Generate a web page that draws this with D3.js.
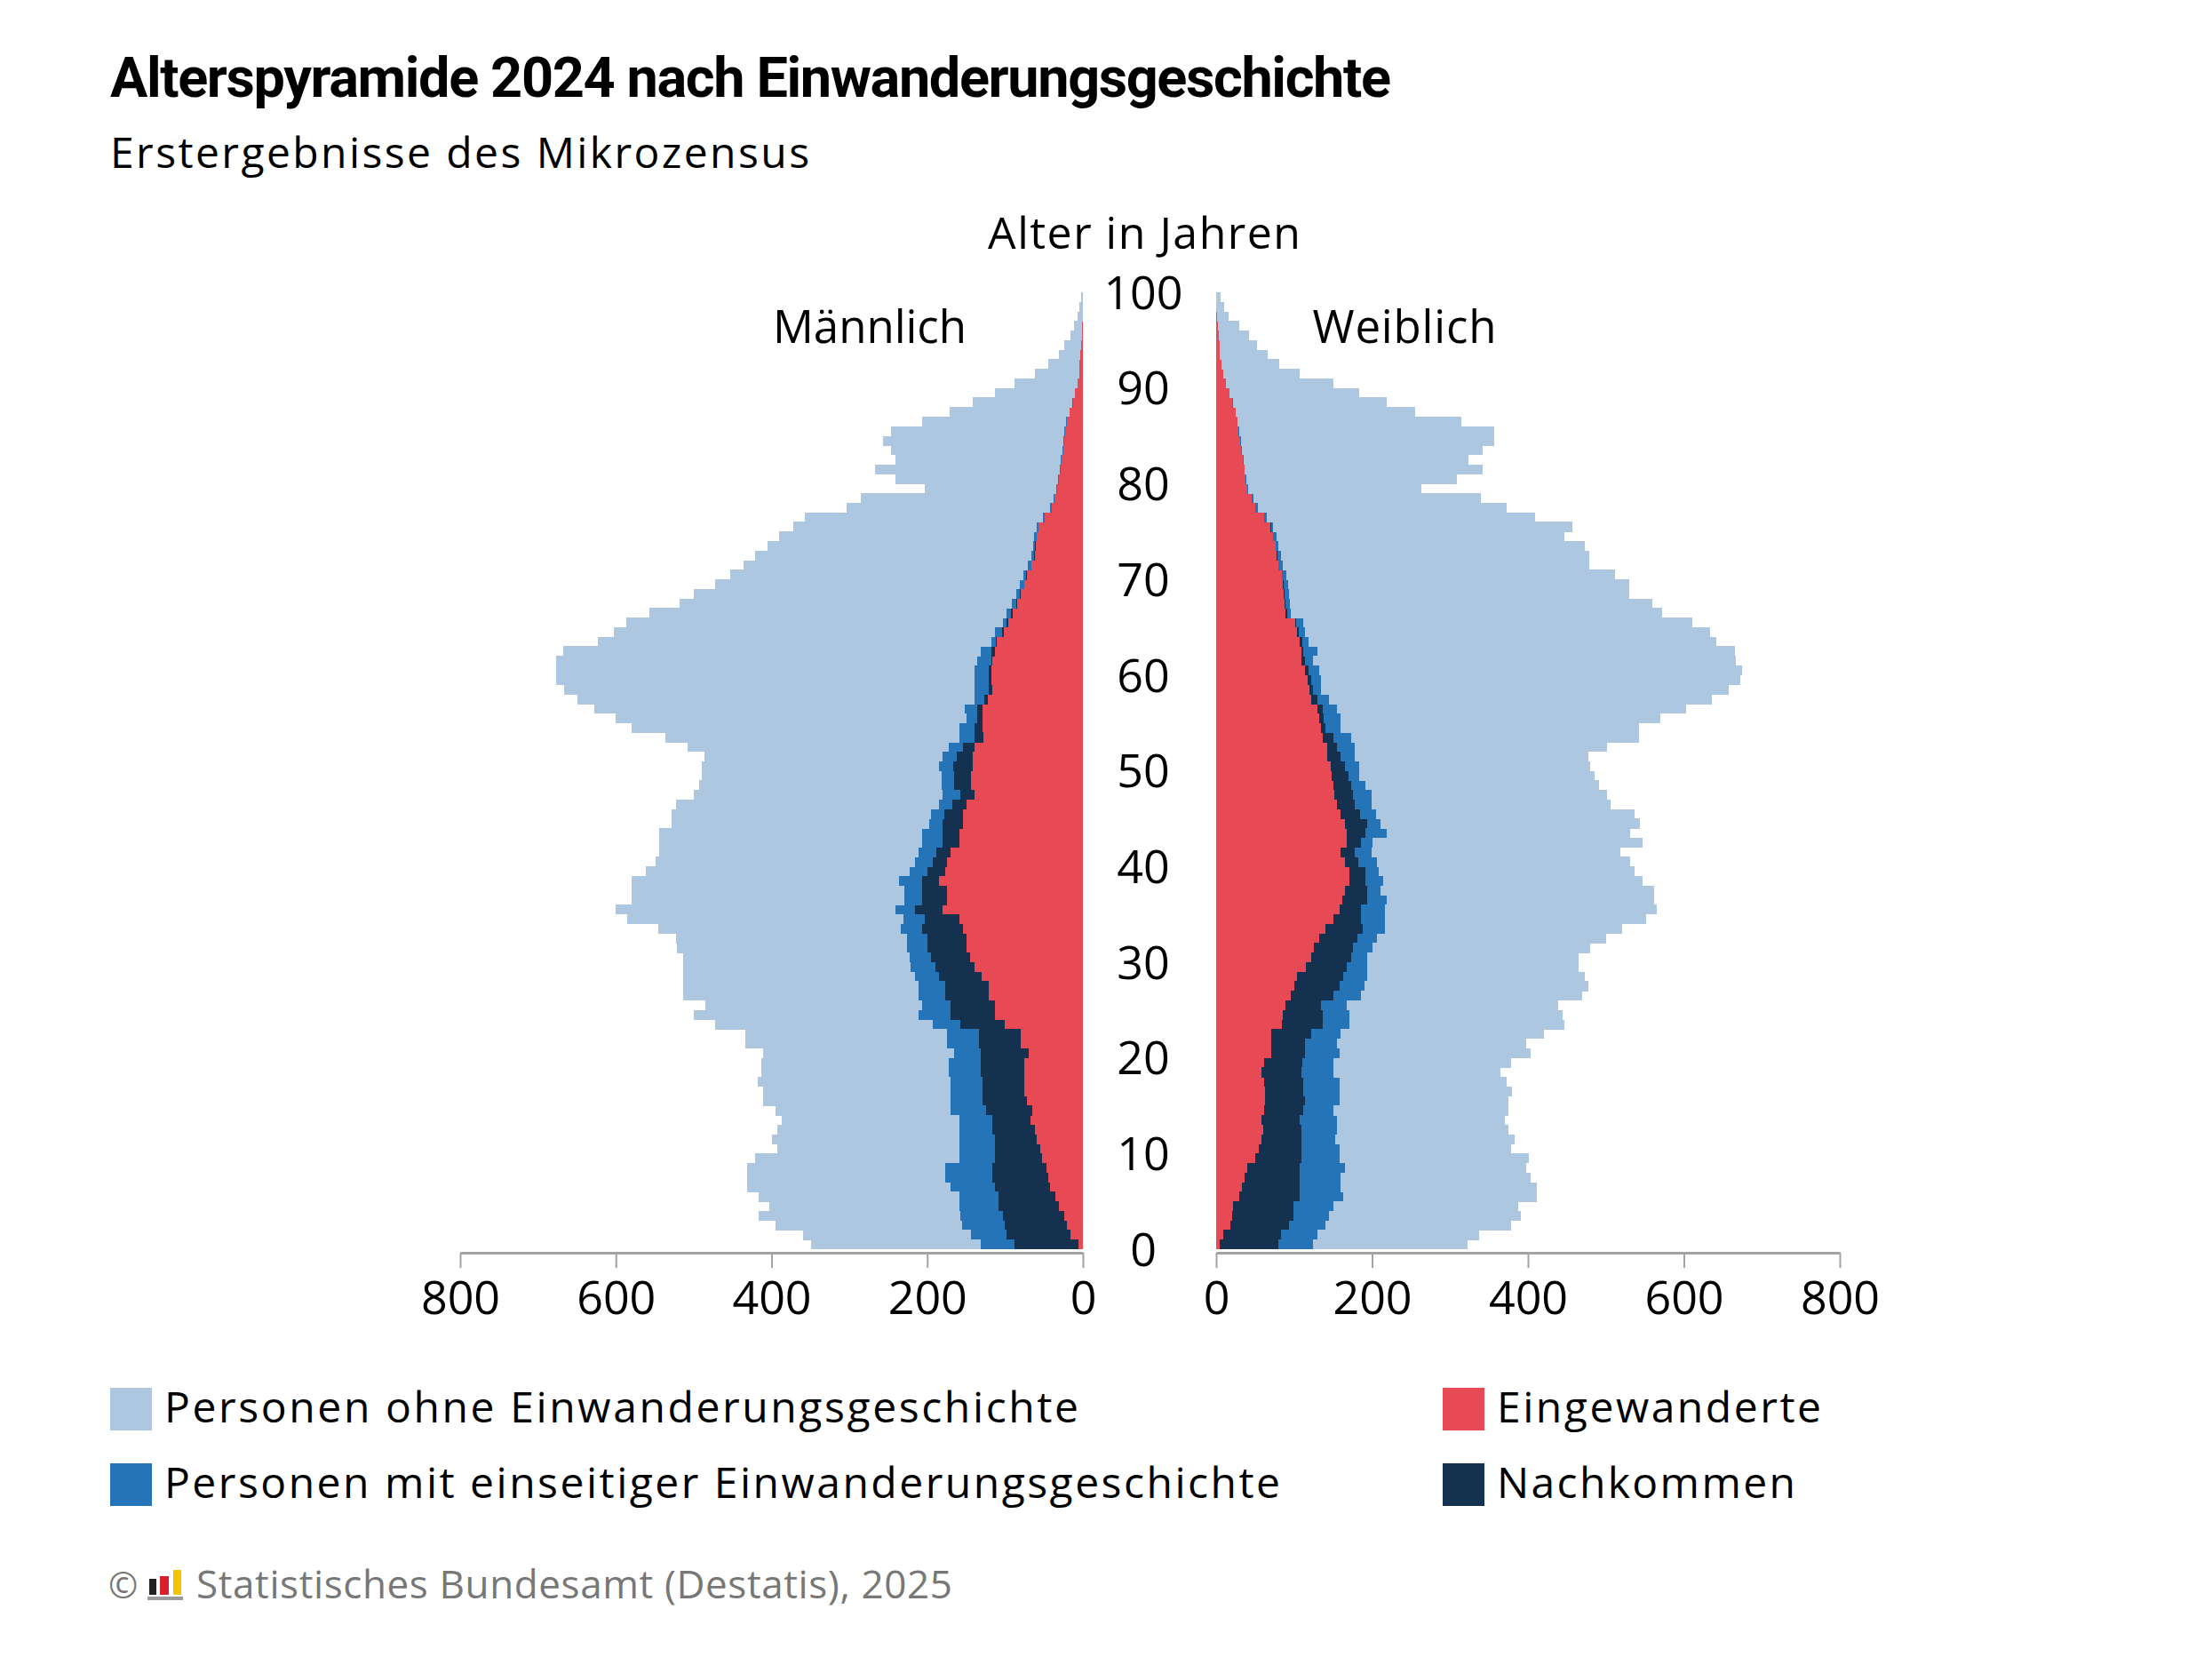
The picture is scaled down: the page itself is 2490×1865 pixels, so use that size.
<!DOCTYPE html>
<html>
<head>
<meta charset="utf-8">
<script src="https://cdn.jsdelivr.net/npm/d3@7"></script>
<style>
  body { margin: 0; background: #fff; }
  svg text { font-family: "Open Sans", "Noto Sans", sans-serif; fill: #000; }
</style>
</head>
<body>
<div id="chart"></div>
<script>
// ages 0..99, one bar per year (values in thousand persons)
var ages = d3.range(0, 100);

// Männlich
var m_eingewanderte = [
	6,16,20,24,31,35,42,45,47,52, 55,59,62,67,65,72,75,75,75,75,
	70,80,80,100,113,113,121,121,130,139, 145,149,149,154,159,180,175,175,185,177,
	175,170,159,159,154,154,150,139,144,144, 141,141,139,128,129,129,129,122,116,118,
	118,116,113,111,102,96,90,84,80,75, 72,66,62,61,59,57,49,40,36,33,
	31,29,27,25,24,23,21,17,13,10, 7,5,4,3,2,1,1,0.5,0.3,0.2
];
var m_nachkommen = [
	82,82,80,79,77,73,71,71,69,61, 58,54,54,49,59,57,54,54,56,56,
	61,54,54,57,57,57,56,56,55,51, 50,51,51,52,44,36,31,31,21,23,
	18,18,21,21,26,24,18,18,21,21, 26,21,15,11,10,7,7,5,5,3,
	3,2,5,1,2,2,2,2,1,0.5, 0.5,0.3,0.3,0.2,0.2,0.2,0.1,0.1,0.1,0.1,
	0,0,0,0,0,0,0,0,0,0, 0,0,0,0,0,0,0,0,0,0
];
var m_einseitig = [
	43,46,55,54,51,51,57,61,61,46, 46,46,43,43,46,41,41,41,41,41,
	34,41,41,36,41,36,34,34,31,31, 28,26,26,28,28,25,23,23,30,23,
	23,23,26,26,18,17,17,23,17,17, 18,18,18,20,20,13,16,12,18,18,
	18,18,13,6,9,5,6,5,5,5, 4,4,4,3,3,2,2,2,2,1,
	1,1,1,1,1,1,0.5,0.5,0.3,0.2, 0,0,0,0,0,0,0,0,0,0
];
var m_ohne = [
	218,215,240,259,244,257,261,254,254,262, 234,241,234,228,225,241,241,248,241,241,
	246,259,259,279,289,279,302,302,297,292, 290,295,297,312,354,359,351,351,344,339,
	333,333,338,338,330,333,338,320,311,308, 305,306,336,377,421,451,476,510,527,538,
	538,541,537,505,490,484,459,427,414,392, 376,366,355,341,328,313,306,261,247,169,
	209,237,213,221,232,223,185,154,128,103, 81,57,40,28,22,15,10,6.5,3.7,1.8
];

// Weiblich
var w_eingewanderte = [
	5,9,18,20,22,30,33,37,40,50, 55,58,60,58,62,63,63,62,58,62,
	71,71,71,84,86,89,96,100,104,115, 122,125,132,140,150,158,162,165,171,171,
	165,160,168,168,165,160,155,152,150,148, 147,143,142,137,135,132,130,122,120,117,
	114,109,109,107,104,101,89,88,87,86, 84,80,78,76,73,70,62,50,46,40,
	38,36,34,32,31,29,27,25,21,17, 13,9,7,5,4,3,2,1,0.5,0.3
];
var w_nachkommen = [
	75,74,76,79,77,77,74,70,67,59, 54,51,49,49,50,51,49,50,51,48,
	43,43,51,53,51,46,54,58,59,53, 51,50,49,48,36,28,32,29,20,20,
	17,18,18,24,29,25,23,24,23,22, 18,17,13,13,5,6,7,8,4,5,
	4,5,3,3,2,2,2,1,0.5,0.5, 0.5,0.3,0.3,0.2,0.2,0.2,0.1,0.1,0.1,0.1,
	0,0,0,0,0,0,0,0,0,0, 0,0,0,0,0,0,0,0,0,0
];
var w_einseitig = [
	44,47,46,46,51,56,53,53,58,49, 49,44,46,48,38,44,46,46,41,40,
	44,41,38,34,34,33,36,32,31,26, 21,26,25,29,31,31,25,17,23,18,
	24,21,15,27,17,20,21,23,18,13, 18,18,23,23,20,22,18,15,11,13,
	14,10,18,9,8,9,5,6,6,6, 6,5,5,4,4,3,3,3,2,1,
	1,1,1,1,1,1,0.5,0.5,0.3,0.2, 0,0,0,0,0,0,0,0,0,0
];
var w_ohne = [
	198,207,238,246,238,248,251,243,233,243, 220,230,220,215,225,217,222,215,215,228,
	245,243,261,276,273,271,284,288,279,271, 271,279,294,304,335,348,343,351,333,328,
	325,320,346,312,333,332,307,302,300,302, 297,300,323,369,382,410,448,491,522,537,
	543,543,535,523,520,499,476,465,436,437, 421,393,395,393,370,384,344,320,291,222,
	270,305,289,309,325,327,287,230,198,166, 137,98,74,61,48,39,28,15,9.5,5.7
];

var x_ticks = [0, 200, 400, 600, 800];
var age_ticks = [0, 10, 20, 30, 40, 50, 60, 70, 80, 90, 100];

var keys = ['eingewanderte', 'nachkommen', 'einseitig', 'ohne'];
var colors = {
	'eingewanderte': '#e84a55',
	'nachkommen': '#14324f',
	'einseitig': '#2574b8',
	'ohne': '#aec7e1'
};
var legend_items = [
	{key: 'ohne', label: 'Personen ohne Einwanderungsgeschichte', col: 0, row: 0, w: 1029},
	{key: 'einseitig', label: 'Personen mit einseitiger Einwanderungsgeschichte', col: 0, row: 1, w: 1256},
	{key: 'eingewanderte', label: 'Eingewanderte', col: 1, row: 0, w: 365},
	{key: 'nachkommen', label: 'Nachkommen', col: 1, row: 1, w: 336}
];

function build_table(e, n, s, o) {
	return ages.map((a, i) => {
		return {'age': a, 'eingewanderte': e[i], 'nachkommen': n[i], 'einseitig': s[i], 'ohne': o[i]};
	});
}
var male = build_table(m_eingewanderte, m_nachkommen, m_einseitig, m_ohne);
var female = build_table(w_eingewanderte, w_nachkommen, w_einseitig, w_ohne);

// Chart
var width = 2490, height = 1865;

var svg = d3.select("#chart").append("svg")
	.attr("width", width)
	.attr("height", height);

var y_scale = d3.scaleLinear().domain([0, 100]).range([1406, 329]);
var x_left = d3.scaleLinear().domain([0, 800]).range([1219, 518]);
var x_right = d3.scaleLinear().domain([0, 800]).range([1369, 2071]);

var stack = d3.stack().keys(keys);

function draw_side(data, xs, cls) {
	var series = stack(data);
	var g = svg.append("g").attr("class", cls);
	series.forEach((s) => {
		g.append("g")
			.attr("fill", colors[s.key])
		  .selectAll("rect")
		  .data(s)
		  .enter().append("rect")
			.attr("x", (d) => Math.min(xs(d[0]), xs(d[1])))
			.attr("width", (d) => Math.abs(xs(d[1]) - xs(d[0])))
			.attr("y", (d) => y_scale(d.data.age + 1))
			.attr("height", (d) => y_scale(d.data.age) - y_scale(d.data.age + 1) + 0.4)
			.attr("shape-rendering", "crispEdges");
	});
}
draw_side(male, x_left, 'male');
draw_side(female, x_right, 'female');

// x axes
function draw_axis(xs) {
	var ax = svg.append("g")
		.attr("transform", "translate(0,1410)")
		.call(d3.axisBottom(xs).tickValues(x_ticks).tickSize(17).tickSizeOuter(0).tickPadding(15));
	ax.select(".domain").attr("stroke", "#a3a3a3").attr("stroke-width", 3);
	ax.selectAll(".tick line").attr("stroke", "#a3a3a3").attr("stroke-width", 2);
	ax.selectAll(".tick text")
		.attr("font-size", 52)
		.attr("fill", "#000");
}
draw_axis(x_left);
draw_axis(x_right);

// age labels
svg.append("g").selectAll("text")
	.data(age_ticks)
	.enter().append("text")
	.attr("x", 1287)
	.attr("y", (d) => y_scale(d))
	.attr("dy", "0.36em")
	.attr("text-anchor", "middle")
	.attr("font-size", 52)
	.text((d) => d);

function label(x, y, size, txt, w, anchor) {
	return svg.append("text").attr("x", x).attr("y", y)
		.attr("text-anchor", anchor || "start")
		.attr("font-size", size)
		.attr("textLength", w).attr("lengthAdjust", "spacing")
		.text(txt);
}
label(1288, 280, 50, "Alter in Jahren", 352, "middle");
label(979, 386, 51, "Männlich", 218, "middle");
label(1581, 386, 51, "Weiblich", 207, "middle");

// titles
label(124, 109, 63, "Alterspyramide 2024 nach Einwanderungsgeschichte", 1442)
	.style("font-family", "Roboto, sans-serif")
	.style("font-weight", "bold");
label(124, 189, 48, "Erstergebnisse des Mikrozensus", 787);

// legend
var legend = svg.append("g").selectAll("g")
	.data(legend_items)
	.enter().append("g")
	.attr("transform", (d) => "translate(" + (d.col ? 1624 : 124) + "," + (d.row ? 1647 : 1562) + ")");
legend.append("rect")
	.attr("width", 47).attr("height", 48)
	.attr("fill", (d) => colors[d.key]);
legend.append("text")
	.attr("x", 61).attr("y", 39)
	.attr("font-size", 48)
	.attr("textLength", (d) => d.w).attr("lengthAdjust", "spacing")
	.text((d) => d.label);

// footer
var foot = svg.append("g");
foot.append("text").attr("x", 122).attr("y", 1799).attr("font-size", 40)
	.style("fill", "#777").text("©");
foot.append("rect").attr("x", 168).attr("y", 1777).attr("width", 8).attr("height", 18).attr("fill", "#222");
foot.append("rect").attr("x", 180).attr("y", 1774).attr("width", 10).attr("height", 21).attr("fill", "#d9202a");
foot.append("rect").attr("x", 195).attr("y", 1767).attr("width", 9).attr("height", 28).attr("fill", "#f2c500");
foot.append("rect").attr("x", 166).attr("y", 1797).attr("width", 40).attr("height", 4).attr("fill", "#9a9a9a");
label(221, 1799, 44, "Statistisches Bundesamt (Destatis), 2025", 851).style("fill", "#777");
</script>
</body>
</html>
